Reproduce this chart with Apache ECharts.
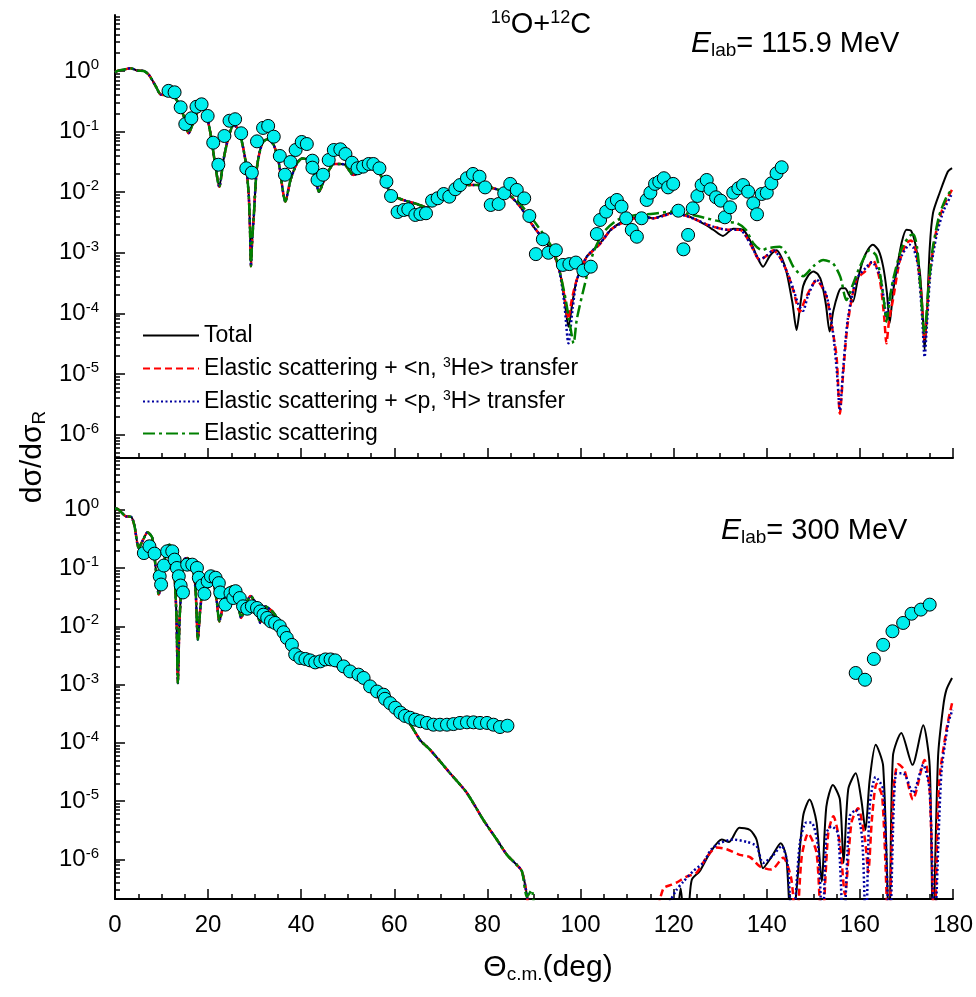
<!DOCTYPE html>
<html>
<head>
<meta charset="utf-8">
<script src="https://cdn.jsdelivr.net/npm/echarts@6/dist/echarts.min.js"></script>
<style>
html,body{margin:0;padding:0;background:#fff;}
#chart{width:976px;height:997px;}
</style>
</head>
<body>
<div id="chart"></div>
<script>
const FONT = 'Liberation Sans, Arial, sans-serif';

// ---- 115.9 MeV (top panel) ----
const topExp = [
  [11.5,0.47],[12.8,0.445],[14.1,0.252],[15.1,0.133],[16.4,0.166],[17.5,0.257],[18.6,0.282],[19.9,0.181],
  [21.1,0.0656],[22.2,0.0284],[23.5,0.0846],[24.6,0.151],[25.8,0.16],[27.1,0.0938],[28.2,0.0248],[29.4,0.021],
  [30.5,0.069],[31.8,0.115],[32.9,0.124],[34.1,0.0824],[35.4,0.0396],[36.5,0.0194],[37.7,0.0315],[38.8,0.0497],
  [40.1,0.0674],[41.2,0.0624],[42.4,0.0331],[42.4,0.0254],[43.5,0.0159],[44.7,0.0194],[45.9,0.034],[47.0,0.0497],
  [48.4,0.051],[49.5,0.0427],[50.9,0.0307],[52.1,0.0248],[53.3,0.0264],[54.5,0.0292],[55.5,0.0292],[56.8,0.0248],
  [58.3,0.0149],[59.3,0.00865],[60.7,0.00471],[62.0,0.00508],[63.0,0.00522],[64.5,0.00421],[65.6,0.00437],[66.8,0.00449],
  [68.1,0.00724],[69.3,0.00794],[70.6,0.00933],[71.8,0.00843],[73.1,0.0112],[74.1,0.0131],[75.6,0.017],[76.9,0.02],
  [78.3,0.018],[79.5,0.012],[80.7,0.00615],[82.4,0.00638],[83.6,0.0096],[84.9,0.0137],[86.3,0.0109],[87.9,0.0079],
  [89.0,0.00405],[90.4,0.00095],[91.9,0.00167],[93.1,0.001],[94.7,0.0011],[96.2,0.00063],[97.6,0.00065],[99.0,0.00069],
  [100.6,0.00051],[102.2,0.00059],[103.5,0.00204],[104.2,0.00348],[105.5,0.00477],[106.7,0.00656],[107.8,0.00744],[108.8,0.00577],
  [109.8,0.00371],[111.0,0.00238],[112.1,0.00184],[113.1,0.00371],[114.2,0.00744],[115.0,0.0098],[116.0,0.0137],[116.9,0.0149],
  [117.9,0.017],[118.8,0.012],[119.9,0.0137],[121.0,0.00495],[122.1,0.00114],[123.1,0.00197],[124.1,0.00542],[125.1,0.00865],
  [126.0,0.0131],[127.1,0.0159],[127.9,0.0112],[129.1,0.00824],[130.1,0.00724],[131.0,0.00385],[132.1,0.00563],[132.8,0.0098],
  [133.9,0.0116],[134.9,0.0131],[136.0,0.0102],[137.1,0.00656],[137.9,0.00432],[138.9,0.00933],[140.0,0.0098],[141.0,0.014],
  [142.1,0.0205],[143.2,0.0258]
];

// part shared by all four calculations
const topCommon = [
  [0,0.95],[0.5,1.0],[2,1.06],[3.3,1.11],[4.8,1.02],[6.2,1.0],[7.3,0.86],[8.7,0.57],[9.8,0.41],[11.2,0.40],
  [12.6,0.377],[13.7,0.29],[14.8,0.176],[15.8,0.094],[16.9,0.146],[18.3,0.242],[19.4,0.214],[20.5,0.094],[21.6,0.026],
  [22.4,0.0123],[23.3,0.034],[24.4,0.082],[25.5,0.128],[26.6,0.106],[28.0,0.034],[28.7,0.0096],[29.0,0.0025],[29.2,0.0006],
  [29.5,0.0018],[29.8,0.0039],[30.5,0.026],[31.6,0.064],[32.7,0.075],[34.1,0.060],[35.2,0.030],[36.6,0.0070],[37.7,0.0159],
  [39.1,0.030],[40.2,0.036],[41.6,0.034],[43.0,0.017],[43.8,0.0102],[45.2,0.018],[46.2,0.0248],[47.0,0.0292],[48.4,0.0292],
  [49.5,0.0281],[51.2,0.0192],[52.7,0.0218],[54.5,0.026],[55.9,0.0248],[57.7,0.0159],[59.5,0.009],[62.0,0.0074],[64.8,0.0064],
  [67.0,0.0056],[69.1,0.0079],[72.0,0.0102],[74.9,0.0131],[77.0,0.0131],[78.4,0.0131],[81.3,0.0116],[84.2,0.0096]
];
const topNear = [[87.0,0.0058],[89.9,0.0027],[92.7,0.00144],[94.2,0.00098]];

const topTotalTail = [
  [95.5,0.0005],[96.5,0.00018],[97.4,0.00006],[98.3,0.00016],[99.2,0.00036],[101.3,0.00086],[104.2,0.00144],[106.5,0.0024],
  [108.5,0.0031],[111,0.0037],[113.5,0.004],[115.6,0.0037],[117.5,0.0041],[119.9,0.0046],[122.5,0.0042],[124.9,0.0035],
  [126.8,0.0029],[128.5,0.0024],[130.6,0.0019],[132.8,0.0025],[134.9,0.0024],[136.4,0.0016],[137.8,0.0009],[139.2,0.00059],
  [140.7,0.0009],[142.1,0.0011],[143.3,0.0008],[144.3,0.00046],[145.5,0.00015],[146.4,0.000053],[147.1,0.00012],[147.8,0.00028],
  [148.9,0.00042],[150.0,0.00049],[151.0,0.00044],[151.8,0.00032],[152.7,0.00014],[153.5,0.00005],[154.3,0.00011],[155.3,0.00021],
  [156.0,0.00026],[156.8,0.00026],[157.7,0.0002],[158.5,0.000155],[159.5,0.00035],[160.7,0.00076],[161.8,0.00115],[162.8,0.00135],
  [164.0,0.0011],[165.0,0.00059],[165.8,0.00022],[166.4,0.000069],[167.1,0.00022],[167.9,0.00052],[169,0.0015],[170,0.0024],
  [171,0.0023],[172,0.0013],[172.9,0.00046],[173.5,0.0001],[173.9,0.000025],[174.4,0.0001],[175.0,0.0012],[175.7,0.0045],
  [177.1,0.0096],[178.9,0.022],[179.8,0.025]
];
const topHe3Tail = [
  [95.5,0.0005],[96.5,0.0002],[97.3,0.00008],[98.2,0.00018],[99.2,0.00036],[101.3,0.00084],[104.2,0.0014],[106.5,0.0024],
  [108.5,0.003],[111,0.0036],[113.5,0.0039],[115.6,0.0037],[117.5,0.004],[119.9,0.0045],[122.5,0.0041],[124.9,0.0035],
  [126.8,0.003],[128.5,0.0027],[131.4,0.0024],[134.2,0.0024],[135.5,0.0019],[136.7,0.0013],[138.5,0.00076],[140,0.0009],
  [141.4,0.0011],[143,0.0008],[144.5,0.00045],[145.7,0.00024],[147.1,0.000107],[148.5,0.00019],[150.7,0.00035],[152.8,0.00019],
  [154.0,0.00006],[155.0,0.000019],[155.7,0.0000022],[156.4,0.00001],[157.4,0.000069],[159.2,0.00035],[161.4,0.00052],[162.8,0.00076],
  [164.3,0.00035],[165.2,0.00009],[165.7,0.000032],[166.3,0.00008],[167.1,0.000166],[168.5,0.0007],[170,0.00144],[171,0.0016],
  [172.1,0.001],[173.2,0.0002],[173.9,0.000036],[174.5,0.00012],[175,0.00046],[176.5,0.0025],[178,0.006],[179.8,0.011]
];
const topH3Tail = [
  [95.5,0.00048],[96.5,0.00015],[97.4,0.000032],[98.3,0.00012],[99.2,0.00035],[101.3,0.00085],[104.2,0.00144],[106.5,0.0024],
  [108.5,0.003],[111,0.0036],[113.5,0.0039],[115.6,0.0037],[117.5,0.004],[119.9,0.0045],[122.5,0.0041],[124.9,0.0035],
  [126.8,0.003],[128.5,0.0027],[131.4,0.0024],[134.2,0.0024],[135.5,0.0019],[136.7,0.0013],[138.5,0.00078],[140,0.0009],
  [141.4,0.0011],[143,0.0008],[144.5,0.00045],[145.7,0.00025],[146.8,0.00014],[147.8,0.00011],[148.8,0.00019],[150.7,0.00036],
  [152.8,0.0002],[154.2,0.00005],[155.1,0.00001],[155.7,0.0000025],[156.4,0.000012],[157.4,0.00008],[159.2,0.00036],[161.4,0.00058],
  [162.6,0.0007],[164.3,0.00042],[165.1,0.00018],[165.7,0.000089],[166.4,0.00018],[167.5,0.0004],[169,0.0009],[170.7,0.00135],
  [171.5,0.0012],[172.5,0.0006],[173.4,0.00008],[173.9,0.000019],[174.5,0.00009],[175.2,0.0005],[176.5,0.002],[178,0.005],[179.8,0.0095]
];
const topElasticTail = [
  [87.0,0.0064],[89.9,0.0034],[92.7,0.0017],[94.2,0.0011],[95.6,0.00046],[96.8,0.00017],[97.8,0.00006],[98.5,0.000032],
  [99.2,0.00008],[100.6,0.00024],[102.7,0.00098],[105,0.0022],[108,0.0035],[112,0.0042],[115.6,0.0044],[119.9,0.0048],
  [124.2,0.0042],[129.9,0.0033],[133.5,0.0031],[135.5,0.0024],[137.1,0.00144],[139,0.0011],[140.0,0.00118],[142.8,0.00126],
  [144.5,0.0009],[145.7,0.00059],[147.8,0.00041],[150,0.0006],[152.1,0.00076],[154.2,0.00067],[155.8,0.0004],[157.1,0.000166],
  [158.5,0.0003],[160,0.00059],[162.1,0.0011],[163.5,0.0009],[164.3,0.00046],[165.2,0.00015],[165.7,0.000073],[166.3,0.00015],
  [167.1,0.00035],[169,0.0012],[170.7,0.0019],[171.5,0.002],[172.3,0.0012],[172.9,0.00035],[173.9,0.000047],[174.6,0.0002],
  [175.5,0.001],[177,0.004],[178.5,0.008],[179.8,0.0115]
];

// ---- 300 MeV (bottom panel) ----
const botExp = [
  [6.2,0.18],[7.4,0.235],[8.5,0.176],[9.6,0.072],[9.9,0.052],[10.5,0.11],[11.2,0.193],[12.3,0.193],[12.8,0.139],
  [13.3,0.1],[13.7,0.072],[14.1,0.05],[14.6,0.038],[15.5,0.114],[16.6,0.114],[17.6,0.1],[18.0,0.068],[18.7,0.05],
  [19.2,0.036],[19.9,0.059],[20.6,0.072],[21.6,0.068],[22.3,0.055],[22.6,0.038],[23.7,0.0235],[24.8,0.037],[25.4,0.0305],
  [25.9,0.04],[26.8,0.0305],[27.5,0.022],[28.4,0.02],[29.4,0.022],[30.5,0.0206],[31.2,0.018],[31.9,0.0158],[32.7,0.0139],
  [33.5,0.0121],[34.4,0.0114],[35.4,0.010],[36.2,0.0079],[36.9,0.0063],[38.0,0.0048],[38.7,0.0033],[39.8,0.00285],
  [40.9,0.00275],[41.9,0.0026],[43.0,0.0024],[44.1,0.0025],[45.2,0.0027],[46.3,0.0027],[47.3,0.0026],[49.1,0.00205],
  [50.5,0.00168],[52.3,0.00148],[53.4,0.0013],[54.8,0.00093],[56.3,0.00076],[57.7,0.00067],[58.0,0.00057],[59.1,0.00048],
  [60.2,0.0004],[61.3,0.00033],[62.3,0.00029],[63.4,0.00027],[64.5,0.00025],[65.6,0.000235],[67.0,0.00022],[68.4,0.000205],
  [69.8,0.000205],[71.3,0.000205],[72.7,0.00021],[74.1,0.00022],[75.6,0.000225],[77.0,0.000225],[78.4,0.00022],[79.9,0.00022],
  [81.3,0.000205],[82.7,0.000187],[84.3,0.000197],
  [159.1,0.00158],[161.1,0.00121],[163.0,0.00275],[165.0,0.0048],[167.0,0.0082],[169.3,0.0114],[171.1,0.0164],[173.1,0.0193],[175.0,0.0235]
];

const botCommon = [
  [0,1.05],[0.6,1.03],[2.3,0.77],[3.5,0.75],[4.2,0.52],[5.1,0.22],[6.0,0.30],[7.0,0.41],[8.0,0.33],[8.7,0.107],[9.4,0.035],
  [10.1,0.072],[11.2,0.235],[11.8,0.25],[12.6,0.122],[13.2,0.0148],[13.5,0.00106],[13.9,0.0148],[14.8,0.139],[15.5,0.148],
  [16.6,0.107],[17.3,0.042],[17.8,0.0059],[18.3,0.019],[19.1,0.063],[20.1,0.082],[21.2,0.055],[21.9,0.025],[22.4,0.0121],
  [23.2,0.022],[24.1,0.042],[25.1,0.048],[26.2,0.033],[27.1,0.0139],[28.0,0.022],[29.1,0.033],[30.2,0.025],[31.2,0.0114],
  [32.3,0.022],[34.1,0.0169],[36.2,0.0087],[38.4,0.0045],[40.2,0.0034],[42,0.0029],[44.1,0.0026],[46.3,0.0023],[48,0.002],
  [50,0.0016],[52,0.0013],[54,0.001],[56,0.00075],[58,0.00056],[60,0.0004],[62,0.00029],[63.4,0.00021],[65.6,0.00011],
  [67.7,0.000076],[72,0.00003],[75.6,0.0000138],[79.1,0.0000048],[82.0,0.0000022],[84.2,0.0000012],[86.3,0.00000081],
  [87.4,0.00000063],[88.5,0.00000023]
];
const botTotalTail = [
  [89.2,5e-8],[100,'-'],[120.8,1e-7],[121.5,3.2e-7],[122.3,1e-7],[123.2,1.5e-7],[123.9,4.5e-7],[125.6,6.3e-7],[127.8,1.3e-6],
  [130.3,2.2e-6],[131.9,2.0e-6],[134.1,3.5e-6],[136.4,3.2e-6],[137.8,2.2e-6],[139.2,7.1e-7],[141,1.1e-6],[143,1.9e-6],
  [144.2,1.1e-6],[145.3,5e-8],[146.4,3e-7],[147.8,5.5e-6],[149.2,1.07e-5],[150.7,4.3e-6],[151.8,4.2e-7],[152.8,8.1e-6],
  [154.2,1.9e-5],[155.7,1.07e-5],[156.5,8.7e-7],[157.5,1.6e-5],[159.1,3.0e-5],[160.3,1.07e-5],[161.2,3.2e-6],[162.1,2.3e-5],
  [163.4,9.3e-5],[165.0,4e-5],[166.3,5e-8],[167.1,5.9e-5],[168.9,1.48e-4],[171.3,4.2e-5],[173.6,2.0e-4],[175.0,4e-5],
  [175.7,5e-8],[176.8,5.9e-5],[177.9,4.2e-4],[178.6,8.2e-4],[179.8,1.3e-3]
];
const botHe3Tail = [
  [89.2,5e-8],[100,'-'],[116.2,1e-7],[117.8,3.2e-7],[119.6,3.7e-7],[120.6,4e-7],[122.8,5.1e-7],[124.9,5.9e-7],[127.1,1.1e-6],
  [129.2,1.6e-6],[131.4,1.5e-6],[134.2,1.2e-6],[136.4,1.1e-6],[138.5,7.6e-7],[141.0,6.7e-7],[143.5,1.07e-6],[145.3,4.5e-7],
  [146.3,5e-8],[147.5,1.1e-6],[148.9,2.8e-6],[150.7,1.3e-6],[151.8,5e-8],[153.2,2.8e-6],[154.3,5.5e-6],[155.7,1.9e-6],
  [156.8,2.5e-7],[158.2,4.3e-6],[159.6,7.6e-6],[161.1,2.2e-6],[161.8,6e-7],[162.6,5e-6],[163.6,2.0e-5],[164.8,1.2e-5],
  [166.2,5e-8],[167.2,1.5e-5],[168.2,4.3e-5],[169.5,3.5e-5],[171.4,1.07e-5],[173.9,5.1e-5],[175.0,1.5e-5],[176.0,5e-8],
  [177.0,2e-5],[178.6,1.7e-4],[179.8,4.8e-4]
];
const botH3Tail = [
  [89.2,5e-8],[100,'-'],[117.2,1e-7],[120.6,3e-7],[122.0,4.1e-7],[124.2,6.3e-7],[126.3,8.7e-7],[128.1,1.5e-6],[129.9,1.9e-6],
  [132.8,2.2e-6],[135.7,2.0e-6],[137.8,1.7e-6],[139.2,8.7e-7],[141.0,1.1e-6],[143.2,1.7e-6],[144.5,8e-7],[145.5,5e-8],
  [147.1,1.9e-6],[148.5,4.3e-6],[149.6,4.3e-6],[151.0,1.7e-6],[152.0,5e-8],[152.8,2.8e-6],[153.9,3.7e-6],[155.3,2.8e-6],
  [156.5,5e-8],[157.8,5.5e-6],[159.2,7.1e-6],[160.5,2.2e-6],[161.3,5e-8],[162.1,8.1e-6],[163.4,2.6e-5],[165.0,1.6e-5],
  [166.4,5e-8],[167.8,3e-5],[169.3,3e-5],[171.4,1.38e-5],[173.6,4.2e-5],[175.0,1.5e-5],[176.0,5e-8],[177.5,3e-5],
  [179.0,2.2e-4],[179.9,3.7e-4]
];
const botElasticTail = [[89.5,3e-7],[90.4,5e-8]];

// axis ticks
const yMajor = [1e-6,1e-5,1e-4,1e-3,1e-2,1e-1,1];
const yMinor = [];
for (let e = -7; e <= 0; e++) {
  for (let k = 2; k <= 9; k++) yMinor.push(Number((k * Math.pow(10, e)).toPrecision(3)));
}

const NAMES = ['Total', 'Elastic scattering + <n, 3He> transfer', 'Elastic scattering + <p, 3H> transfer', 'Elastic scattering'];
const STYLES = [
  {color: '#000000', width: 2, type: 'solid'},
  {color: '#ff0000', width: 2.5, type: [7, 4]},
  {color: '#0000a0', width: 2.5, type: [2, 2.5]},
  {color: '#008000', width: 2.5, type: [12, 4, 3, 4]}
];

const chart = echarts.init(document.getElementById('chart'), null, {renderer: 'canvas'});

function xAxisFor(grid, labels) {
  return {
    type: 'value', gridIndex: grid, min: 0, max: 180, interval: 20,
    axisLine: {onZero: false, lineStyle: {color: '#000', width: 2}},
    axisTick: {inside: true, length: 10, lineStyle: {color: '#000', width: 1.5}},
    minorTick: {show: true, splitNumber: 4, length: 5, lineStyle: {color: '#000', width: 1.5}},
    axisLabel: {show: labels, fontSize: 24, margin: 14, color: '#000', fontFamily: FONT},
    splitLine: {show: false}, minorSplitLine: {show: false}
  };
}
function yAxesFor(grid, min, max) {
  return [{
    type: 'log', logBase: 10, gridIndex: grid, position: 'left', min: min, max: max,
    axisLine: {show: true, onZero: false, lineStyle: {color: '#000', width: 2}},
    axisTick: {inside: true, length: 10, customValues: yMajor, lineStyle: {color: '#000', width: 1.5}},
    axisLabel: {
      customValues: yMajor, margin: 16, color: '#000', fontSize: 24, fontFamily: FONT,
      formatter: v => '10{sup|' + Math.round(Math.log10(v)) + '}',
      rich: {sup: {fontSize: 15, fontFamily: FONT, color: '#000', padding: [0, 0, 12, 0]}}
    },
    splitLine: {show: false}
  }, {
    type: 'log', logBase: 10, gridIndex: grid, position: 'left', min: min, max: max,
    axisLine: {show: false, onZero: false},
    axisTick: {inside: true, length: 5, customValues: yMinor, lineStyle: {color: '#000', width: 1.5}},
    axisLabel: {show: false},
    splitLine: {show: false}
  }];
}

function lineSeries(i, grid, data) {
  return {
    name: NAMES[i], type: 'line', xAxisIndex: grid, yAxisIndex: grid * 2,
    data: data, symbol: 'none', smooth: 0.25, connectNulls: false, z: 2 + i * 0.1,
    lineStyle: {color: STYLES[i].color, width: STYLES[i].width, type: STYLES[i].type},
    itemStyle: {color: STYLES[i].color}
  };
}
function expSeries(grid, data) {
  return {
    name: 'exp', type: 'scatter', xAxisIndex: grid, yAxisIndex: grid * 2, data: data,
    symbol: 'circle', symbolSize: 13, z: 5,
    itemStyle: {color: '#00eeee', borderColor: '#000', borderWidth: 1, opacity: 1}
  };
}

const sup = {fontSize: 18, fontFamily: FONT, fill: '#000', padding: [0, 0, 13, 0]};
const sub = {fontSize: 19, fontFamily: FONT, fill: '#000', padding: [14, 0, 0, 0]};

const option = {
  animation: false,
  backgroundColor: '#fff',
  grid: [
    {left: 115, top: 15, width: 838, height: 443},
    {left: 115, top: 457, width: 838, height: 442}
  ],
  xAxis: [xAxisFor(0, false), xAxisFor(1, true)],
  yAxis: yAxesFor(0, 4.1e-7, 8.4).concat(yAxesFor(1, 2.1e-7, 8.0)),
  legend: {
    data: NAMES, orient: 'vertical', left: 137, top: 319,
    itemWidth: 56, itemHeight: 12, itemGap: 9,
    itemStyle: {color: 'transparent', borderColor: 'transparent', borderWidth: 0, opacity: 0},
    formatter: n => n.replace(', 3', ', {sup|3}'),
    textStyle: {
      fontSize: 23, color: '#000', fontFamily: FONT,
      rich: {sup: {fontSize: 14, color: '#000', fontFamily: FONT, padding: [0, 0, 11, 0]}}
    }
  },
  graphic: [
    {type: 'text', x: 541, y: 25, style: {
      text: '{s|16}{t|O+}{s|12}{t|C}', align: 'center', verticalAlign: 'middle',
      rich: {t: {fontSize: 29, fontFamily: FONT, fill: '#000'}, s: sup}
    }},
    {type: 'text', x: 691, y: 44, style: {
      text: '{e|E}{b|lab}{t|= 115.9 MeV}', align: 'left', verticalAlign: 'middle',
      rich: {e: {fontSize: 30, fontStyle: 'italic', fontFamily: FONT, fill: '#000'}, b: sub, t: {fontSize: 29, fontFamily: FONT, fill: '#000'}}
    }},
    {type: 'text', x: 721, y: 531, style: {
      text: '{e|E}{b|lab}{t|= 300 MeV}', align: 'left', verticalAlign: 'middle',
      rich: {e: {fontSize: 30, fontStyle: 'italic', fontFamily: FONT, fill: '#000'}, b: sub, t: {fontSize: 29, fontFamily: FONT, fill: '#000'}}
    }},
    {type: 'text', x: 33, y: 457, rotation: Math.PI / 2, style: {
      text: '{t|dσ/dσ}{b|R}', align: 'center', verticalAlign: 'middle',
      rich: {t: {fontSize: 30, fontFamily: FONT, fill: '#000'}, b: sub}
    }},
    {type: 'text', x: 548, y: 968, style: {
      text: '{t|Θ}{b|c.m.}{t|(deg)}', align: 'center', verticalAlign: 'middle',
      rich: {t: {fontSize: 30, fontFamily: FONT, fill: '#000'}, b: sub}
    }}
  ],
  series: [
    lineSeries(0, 0, topCommon.concat(topNear, topTotalTail)),
    lineSeries(1, 0, topCommon.concat(topNear, topHe3Tail)),
    lineSeries(2, 0, topCommon.concat(topNear, topH3Tail)),
    lineSeries(3, 0, topCommon.concat(topElasticTail)),
    expSeries(0, topExp),
    lineSeries(0, 1, botCommon.concat(botTotalTail)),
    lineSeries(1, 1, botCommon.concat(botHe3Tail)),
    lineSeries(2, 1, botCommon.concat(botH3Tail)),
    lineSeries(3, 1, botCommon.concat(botElasticTail)),
    expSeries(1, botExp)
  ]
};
chart.setOption(option);
</script>
</body>
</html>
